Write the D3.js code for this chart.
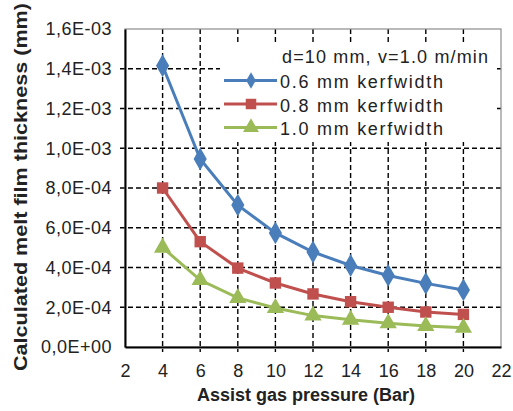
<!DOCTYPE html>
<html>
<head>
<meta charset="utf-8">
<script src="https://cdn.jsdelivr.net/npm/d3@7"></script>
<style>
  body { margin: 0; background: #fff; }
  text { font-family: "Liberation Sans", Arial, sans-serif; }
</style>
</head>
<body>
<div id="chartDiv"></div>
<script>
// data
const pressure = [4, 6, 8, 10, 12, 14, 16, 18, 20];
const kerf06 = [1.415e-3, 9.46e-4, 7.14e-4, 5.74e-4, 4.78e-4, 4.1e-4, 3.6e-4, 3.2e-4, 2.87e-4];
const kerf08 = [8.0e-4, 5.3e-4, 3.97e-4, 3.22e-4, 2.67e-4, 2.28e-4, 2.0e-4, 1.76e-4, 1.64e-4];
const kerf10 = [5.0e-4, 3.37e-4, 2.47e-4, 1.96e-4, 1.58e-4, 1.37e-4, 1.2e-4, 1.06e-4, 0.97e-4];
const xTicks = [2, 4, 6, 8, 10, 12, 14, 16, 18, 20, 22];
const yTicks = [0, 2e-4, 4e-4, 6e-4, 8e-4, 1.0e-3, 1.2e-3, 1.4e-3, 1.6e-3];
const yTickLabels = ["0,0E+00", "2,0E-04", "4,0E-04", "6,0E-04", "8,0E-04", "1,0E-03", "1,2E-03", "1,4E-03", "1,6E-03"];
const seriesNames = ["0.6 mm kerf width", "0.8 mm kerf width", "1.0 mm kerf width"];
const seriesColors = ["#4A7EBB", "#C0504D", "#9BBB59"];
const seriesShapes = [d3.symbolDiamond, d3.symbolSquare, d3.symbolTriangle];

const W = 513, H = 411;
const margin = { left: 125, right: 12, top: 29, bottom: 64 };

const svg = d3.select('#chartDiv').append('svg')
    .attr('width', W)
    .attr('height', H);

const x = d3.scaleLinear().domain([2, 22]).range([margin.left, W - margin.right]);
const y = d3.scaleLinear().domain([0, 1.6e-3]).range([H - margin.bottom, margin.top]);

// gridlines (dashed)
const grid = svg.append('g');
grid.selectAll('.vg')
    .data(xTicks.slice(1, -1))
    .enter().append('line')
    .attr('x1', d => x(d)).attr('x2', d => x(d))
    .attr('y1', y(1.6e-3)).attr('y2', y(0) + 5)
    .attr('stroke', '#000').attr('stroke-width', 1.4)
    .attr('stroke-dasharray', '5,3');
grid.selectAll('.hg')
    .data(yTicks.slice(1, -1))
    .enter().append('line')
    .attr('x1', x(2) - 5).attr('x2', x(22))
    .attr('y1', d => y(d)).attr('y2', d => y(d))
    .attr('stroke', '#000').attr('stroke-width', 1.4)
    .attr('stroke-dasharray', '5,3');

// frame top / right
svg.append('rect')
    .attr('x', x(2)).attr('y', y(1.6e-3))
    .attr('width', x(22) - x(2)).attr('height', y(0) - y(1.6e-3))
    .attr('fill', 'none').attr('stroke', '#8c8c8c').attr('stroke-width', 1.2);

// axes
const xAxis = d3.axisBottom(x).tickValues(xTicks).tickSize(0).tickPadding(17);
const yAxis = d3.axisLeft(y).tickValues(yTicks).tickSize(0).tickPadding(13)
    .tickFormat((d, i) => yTickLabels[i]);

svg.append('g')
    .attr('transform', `translate(0,${y(0)})`)
    .call(xAxis)
    .call(g => g.select('.domain').attr('stroke-width', 2))
    .selectAll('text')
    .attr('font-size', 18).attr('fill', '#222')
    .attr('font-family', '"Liberation Sans", Arial, sans-serif');

svg.append('g')
    .attr('transform', `translate(${x(2)},0)`)
    .call(yAxis)
    .call(g => g.select('.domain').attr('stroke-width', 2))
    .selectAll('text')
    .attr('font-size', 18).attr('fill', '#222')
    .attr('letter-spacing', 0.5)
    .attr('font-family', '"Liberation Sans", Arial, sans-serif');

// legend box (covers grid)
svg.append('rect')
    .attr('x', 220).attr('y', 43)
    .attr('width', 277).attr('height', 99)
    .attr('fill', '#fff');

// series
const allSeries = [kerf06, kerf08, kerf10];
const line = d3.line().x((d, i) => x(pressure[i])).y(d => y(d));

allSeries.forEach((vals, s) => {
    svg.append('path')
        .datum(vals)
        .attr('d', line)
        .attr('fill', 'none')
        .attr('stroke', seriesColors[s])
        .attr('stroke-width', 3);
    svg.selectAll('.m' + s)
        .data(vals)
        .enter().append('path')
        .attr('transform', (d, i) => `translate(${x(pressure[i])},${y(d)})`)
        .attr('d', d3.symbol().type(seriesShapes[s]).size(s == 0 ? 150 : 130))
        .attr('fill', seriesColors[s]);
});

// legend
const lg = svg.append('g');
lg.append('text')
    .attr('x', 282).attr('y', 63)
    .attr('font-size', 18).attr('fill', '#222')
    .attr('textLength', 206).attr('lengthAdjust', 'spacing')
    .text('d=10 mm, v=1.0 m/min');
seriesNames.forEach((name, s) => {
    const base = 88 + s * 23.5;
    const ly = base - 7.5;
    lg.append('line')
        .attr('x1', 224).attr('x2', 277)
        .attr('y1', ly).attr('y2', ly)
        .attr('stroke', seriesColors[s]).attr('stroke-width', 3);
    lg.append('path')
        .attr('transform', `translate(251,${ly})`)
        .attr('d', d3.symbol().type(seriesShapes[s]).size(s == 0 ? 80 : 110))
        .attr('fill', seriesColors[s]);
    lg.append('text')
        .attr('x', 280).attr('y', base)
        .attr('font-size', 18).attr('fill', '#222')
        .attr('textLength', 163).attr('lengthAdjust', 'spacing')
        .text(name.replace('kerf width', 'kerfwidth'));
});

// axis titles
svg.append('text')
    .attr('x', 306).attr('y', 401)
    .attr('text-anchor', 'middle')
    .attr('font-size', 18).attr('font-weight', 'bold').attr('fill', '#222')
    .text('Assist gas pressure (Bar)');

svg.append('text')
    .attr('transform', 'translate(27,187) rotate(-90)')
    .attr('text-anchor', 'middle')
    .attr('font-size', 18).attr('font-weight', 'bold').attr('fill', '#222')
    .attr('textLength', 368).attr('lengthAdjust', 'spacingAndGlyphs')
    .text('Calculated  melt  film thickness (mm)');
</script>
</body>
</html>
